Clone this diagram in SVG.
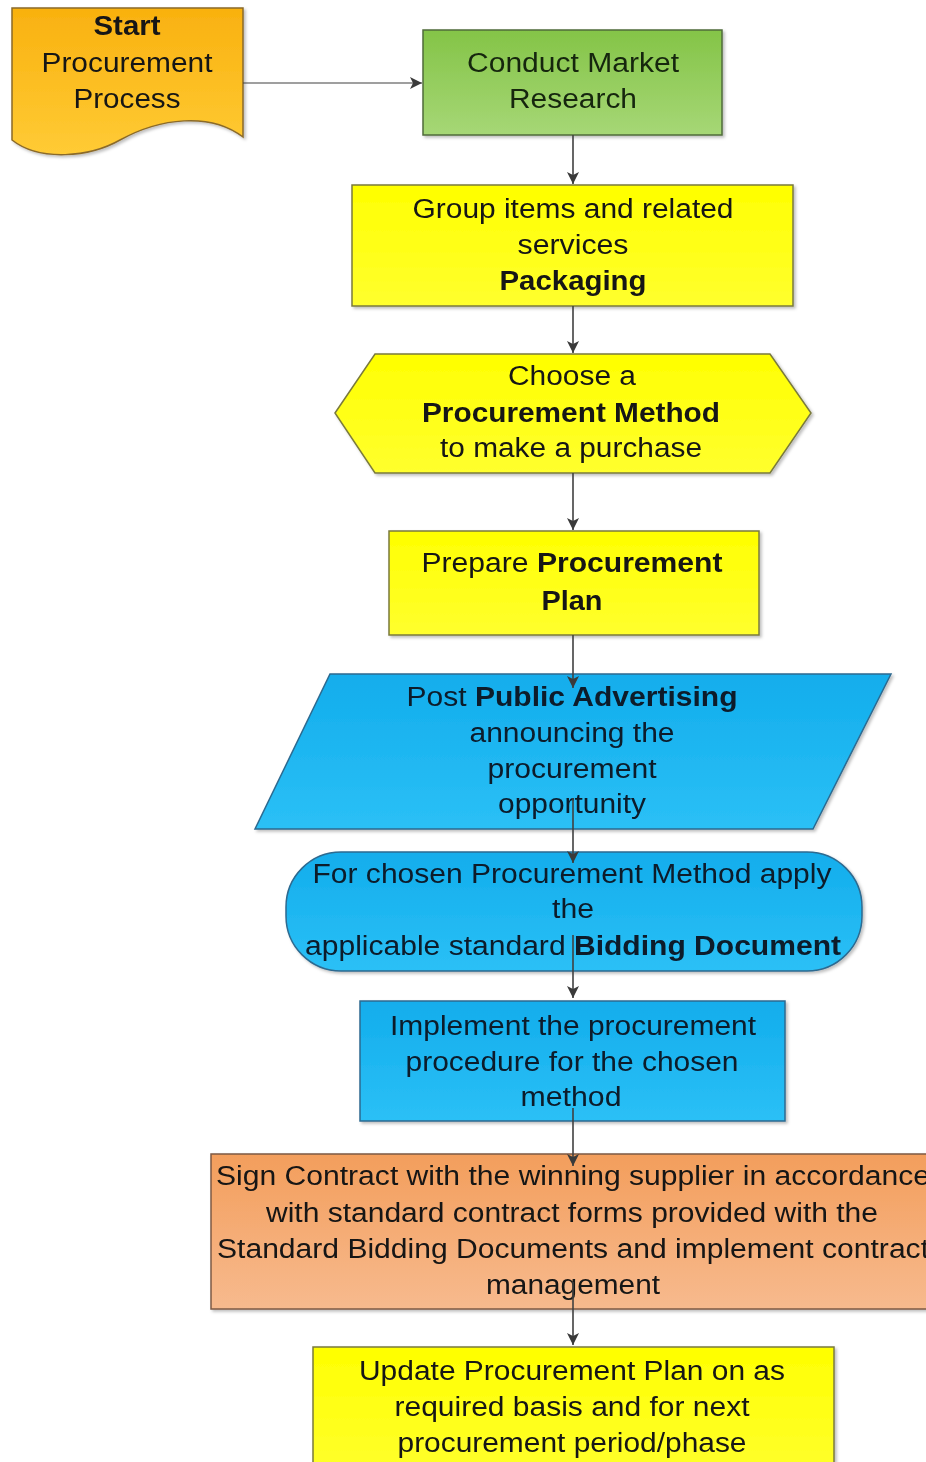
<svg xmlns="http://www.w3.org/2000/svg" width="926" height="1462" viewBox="0 0 926 1462">
<defs>
<linearGradient id="gStart" x1="0" y1="0" x2="0" y2="1"><stop offset="0" stop-color="#F9B10F"/><stop offset="1" stop-color="#FFCB35"/></linearGradient>
<linearGradient id="gGreen" x1="0" y1="0" x2="0" y2="1"><stop offset="0" stop-color="#84C447"/><stop offset="1" stop-color="#A6D776"/></linearGradient>
<linearGradient id="gYellow" x1="0" y1="0" x2="0" y2="1"><stop offset="0" stop-color="#FFFF00"/><stop offset="1" stop-color="#FFFF2E"/></linearGradient>
<linearGradient id="gBlue" x1="0" y1="0" x2="0" y2="1"><stop offset="0" stop-color="#12ADEC"/><stop offset="1" stop-color="#2BC0F6"/></linearGradient>
<linearGradient id="gOrange" x1="0" y1="0" x2="0" y2="1"><stop offset="0" stop-color="#F39E5C"/><stop offset="1" stop-color="#F7BA8E"/></linearGradient>
<filter id="sh" x="-5%" y="-5%" width="110%" height="115%"><feDropShadow dx="2" dy="2" stdDeviation="1.5" flood-color="#000" flood-opacity="0.25"/></filter>
<marker id="arr" viewBox="0 0 12 12" refX="12" refY="6" markerWidth="12" markerHeight="12" markerUnits="userSpaceOnUse" orient="auto"><path d="M0,0 L12,6 L0,12 L3,6 Z" fill="#3A3A3A"/></marker>
</defs>
<style>
text{font-family:"Liberation Sans",Arial,sans-serif;font-size:27px;fill:#141414;text-anchor:middle}
.b{font-weight:bold}
.blue text{fill:#0A1A2A}
.conn{stroke:#404040;stroke-width:1.6;fill:none;marker-end:url(#arr)}
.y{fill:url(#gYellow);stroke:#7A7A3C;stroke-width:1.5}
.bl{fill:url(#gBlue);stroke:#2D6A90;stroke-width:1.5}
</style>

<g id="start" filter="url(#sh)">
<path d="M12,8 L243,8 L243,137 C210,112 160,118 120,140 C90,157 40,162 12,140 Z" fill="url(#gStart)" stroke="#8A6A2A" stroke-width="1.5"/>
<text x="127" y="35" class="b" textLength="67" lengthAdjust="spacingAndGlyphs">Start</text>
<text x="127" y="72" textLength="171" lengthAdjust="spacingAndGlyphs">Procurement</text>
<text x="127" y="108" textLength="107" lengthAdjust="spacingAndGlyphs">Process</text>
</g>

<g id="market" filter="url(#sh)">
<rect x="423" y="30" width="299" height="105" fill="url(#gGreen)" stroke="#4F6B3A" stroke-width="1.5"/>
<text x="573" y="72" textLength="212" lengthAdjust="spacingAndGlyphs" style="fill:#15250F">Conduct Market</text>
<text x="573" y="108" textLength="128" lengthAdjust="spacingAndGlyphs" style="fill:#15250F">Research</text>
</g>

<g id="packaging" filter="url(#sh)">
<rect x="352" y="185" width="441" height="121" class="y"/>
<text x="573" y="218" textLength="321" lengthAdjust="spacingAndGlyphs">Group items and related</text>
<text x="573" y="254" textLength="111" lengthAdjust="spacingAndGlyphs">services</text>
<text x="573" y="290" class="b" textLength="147" lengthAdjust="spacingAndGlyphs">Packaging</text>
</g>

<g id="method" filter="url(#sh)">
<polygon points="335,413 375,354 770,354 811,413 770,473 375,473" class="y"/>
<text x="572" y="385" textLength="128" lengthAdjust="spacingAndGlyphs">Choose a</text>
<text x="571" y="422" class="b" textLength="298" lengthAdjust="spacingAndGlyphs">Procurement Method</text>
<text x="571" y="457" textLength="262" lengthAdjust="spacingAndGlyphs">to make a purchase</text>
</g>

<g id="plan" filter="url(#sh)">
<rect x="389" y="531" width="370" height="104" class="y"/>
<text x="572" y="572" textLength="301" lengthAdjust="spacingAndGlyphs">Prepare <tspan class="b">Procurement</tspan></text>
<text x="572" y="610" class="b" textLength="61" lengthAdjust="spacingAndGlyphs">Plan</text>
</g>

<g id="advertising" class="blue" filter="url(#sh)">
<polygon points="330,674 891,674 813,829 255,829" class="bl"/>
<text x="572" y="706" textLength="331" lengthAdjust="spacingAndGlyphs">Post <tspan class="b">Public Advertising</tspan></text>
<text x="572" y="742" textLength="205" lengthAdjust="spacingAndGlyphs">announcing the</text>
<text x="572" y="778" textLength="169" lengthAdjust="spacingAndGlyphs">procurement</text>
<text x="572" y="813" textLength="148" lengthAdjust="spacingAndGlyphs">opportunity</text>
</g>

<g id="bidding" class="blue" filter="url(#sh)">
<rect x="286" y="852" width="576" height="119" rx="55" ry="55" class="bl"/>
<text x="572" y="883" textLength="519" lengthAdjust="spacingAndGlyphs">For chosen Procurement Method apply</text>
<text x="573" y="918" textLength="42" lengthAdjust="spacingAndGlyphs">the</text>
<text x="573" y="955" textLength="536" lengthAdjust="spacingAndGlyphs">applicable standard <tspan class="b">Bidding Document</tspan></text>
</g>

<g id="implement" class="blue" filter="url(#sh)">
<rect x="360" y="1001" width="425" height="120" class="bl"/>
<text x="573" y="1035" textLength="366" lengthAdjust="spacingAndGlyphs">Implement the procurement</text>
<text x="572" y="1071" textLength="333" lengthAdjust="spacingAndGlyphs">procedure for the chosen</text>
<text x="571" y="1106" textLength="101" lengthAdjust="spacingAndGlyphs">method</text>
</g>

<g id="contract" filter="url(#sh)">
<rect x="211" y="1154" width="730" height="155" fill="url(#gOrange)" stroke="#7E5A44" stroke-width="1.5"/>
<text x="573" y="1185" textLength="714" lengthAdjust="spacingAndGlyphs">Sign Contract with the winning supplier in accordance</text>
<text x="572" y="1222" textLength="612" lengthAdjust="spacingAndGlyphs">with standard contract forms provided with the</text>
<text x="573" y="1258" textLength="712" lengthAdjust="spacingAndGlyphs">Standard Bidding Documents and implement contract</text>
<text x="573" y="1294" textLength="174" lengthAdjust="spacingAndGlyphs">management</text>
</g>

<g id="update" filter="url(#sh)">
<rect x="313" y="1347" width="521" height="130" class="y"/>
<text x="572" y="1380" textLength="426" lengthAdjust="spacingAndGlyphs">Update Procurement Plan on as</text>
<text x="572" y="1416" textLength="355" lengthAdjust="spacingAndGlyphs">required basis and for next</text>
<text x="572" y="1452" textLength="349" lengthAdjust="spacingAndGlyphs">procurement period/phase</text>
</g>

<g id="connectors">
<line x1="243" y1="83" x2="422" y2="83" class="conn" style="stroke-width:1.2"/>
<line x1="573" y1="135" x2="573" y2="184" class="conn"/>
<line x1="573" y1="306" x2="573" y2="353" class="conn"/>
<line x1="573" y1="473" x2="573" y2="530" class="conn"/>
<line x1="573" y1="635" x2="573" y2="688" class="conn"/>
<line x1="573" y1="798" x2="573" y2="863" class="conn"/>
<line x1="573" y1="935" x2="573" y2="998" class="conn"/>
<line x1="573" y1="1108" x2="573" y2="1166" class="conn"/>
<line x1="573" y1="1282" x2="573" y2="1345" class="conn"/>
</g>
</svg>
